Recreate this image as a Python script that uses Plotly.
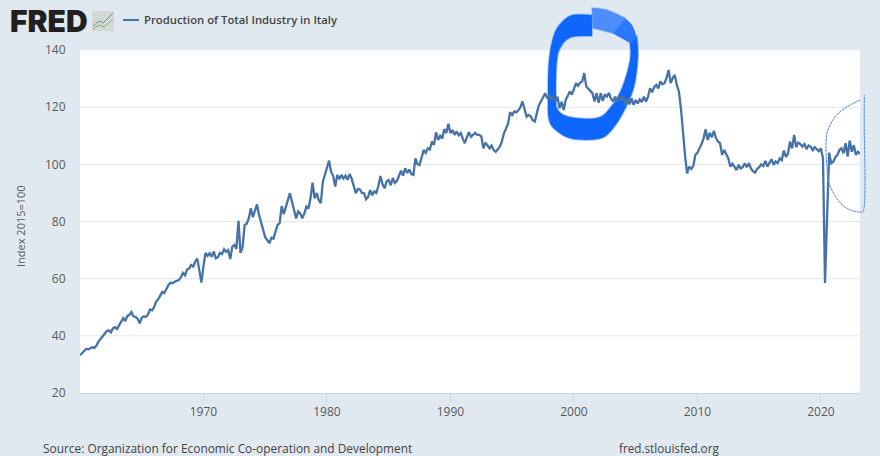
import numpy as np
import plotly.graph_objects as go

# Production of Total Industry in Italy, one value every two months from 1960
industry_values = [
    33.2, 34.0, 34.8, 35.4, 35.3, 35.8,
    36.0, 35.8, 36.6, 38.0, 38.9, 39.8,
    41.0, 41.7, 41.9, 41.2, 42.6, 43.0,
    42.4, 43.6, 44.8, 46.2, 45.2, 47.0,
    47.3, 48.3, 46.8, 46.6, 46.0, 44.4,
    46.3, 46.8, 46.6, 47.4, 49.2, 48.9,
    50.0, 52.0, 52.8, 54.2, 55.4, 55.0,
    56.6, 57.8, 58.6, 58.4, 58.9, 59.2,
    59.5, 60.4, 62.0, 61.2, 63.2, 63.5,
    64.8, 64.2, 66.0, 67.0, 62.0, 58.6,
    64.5, 69.0, 68.0, 68.9, 67.6, 69.5,
    67.1, 67.5, 69.0, 68.6, 70.3, 69.4,
    70.0, 66.9, 71.2, 71.8, 70.4, 80.2,
    69.0, 71.0, 78.8, 79.2, 81.1, 84.6,
    81.5, 84.2, 86.0, 82.3, 79.5, 77.0,
    74.5, 73.5, 72.4, 74.3, 74.0, 76.5,
    78.8, 79.4, 85.4, 82.6, 85.5, 87.5,
    89.9, 87.0, 84.6, 81.1, 83.5, 82.8,
    81.1, 82.8, 85.2, 84.5, 88.1, 93.6,
    88.1, 89.9, 87.5, 86.4, 93.9, 96.6,
    99.0, 101.3, 97.4, 96.0, 92.2, 96.3,
    94.8, 96.3, 95.0, 96.0, 94.6, 96.6,
    95.0, 92.8, 89.9, 91.4, 91.2, 90.0,
    89.9, 87.8, 88.6, 91.0, 89.2, 90.5,
    90.0, 92.5, 95.9, 93.0, 91.6, 94.0,
    94.5, 92.7, 95.2, 93.5, 94.2, 96.0,
    97.8, 96.0, 98.6, 97.0, 98.2, 96.6,
    96.3, 102.1, 100.0, 99.8, 103.0, 105.0,
    104.0, 105.6, 105.2, 108.0, 106.8, 111.2,
    108.5, 110.0, 109.0, 112.3, 111.0, 114.2,
    110.9, 112.0, 110.3, 111.5, 110.2, 111.0,
    109.0, 107.4, 109.5, 111.2, 109.6, 110.5,
    111.0, 110.3, 110.3, 109.8, 105.6, 107.6,
    106.5, 105.6, 106.6, 105.0, 104.4, 105.3,
    106.2, 108.0, 110.9, 112.5, 114.2, 118.2,
    117.3, 118.5, 118.2, 118.9, 120.0, 122.0,
    119.0, 116.7, 117.3, 116.8, 115.4, 115.0,
    118.0, 120.8, 122.0, 123.5, 124.9, 123.1,
    124.2, 122.8, 123.7, 122.0, 123.7, 119.6,
    121.9, 119.0, 122.5, 124.0, 125.5, 124.4,
    126.5, 128.4, 127.5, 128.6, 129.0, 131.9,
    127.2, 126.4, 125.5, 124.9, 122.0, 124.9,
    121.5, 124.9, 122.2, 124.5, 123.7, 125.0,
    123.0, 122.0, 123.7, 121.8, 123.9, 122.4,
    123.7, 120.8, 123.0, 121.0, 123.1, 120.8,
    122.5, 121.3, 122.7, 121.8, 123.7, 122.0,
    123.7, 126.6, 125.2, 127.0, 127.8, 126.6,
    129.0, 128.0, 128.4, 130.2, 133.0, 128.4,
    130.2, 131.3, 127.8, 125.5, 119.6, 110.9,
    103.0, 96.8, 99.2, 98.4, 99.4, 103.3,
    104.0, 105.6, 107.0, 109.1, 112.3, 108.5,
    111.0, 109.5, 111.7, 109.2, 108.0, 107.4,
    103.3, 105.0, 103.3, 102.1, 99.2, 100.2,
    99.2, 98.0, 99.8, 98.6, 99.0, 100.4,
    99.0, 100.4, 98.6, 97.6, 97.1, 98.4,
    99.0, 100.0, 99.4, 101.2, 99.2, 100.8,
    101.8, 99.8, 101.0, 100.4, 102.1, 101.5,
    104.8, 102.6, 103.8, 108.0, 105.6, 110.3,
    106.0, 107.6, 107.1, 106.2, 107.1, 105.3,
    106.6, 106.2, 105.0, 106.0, 105.2, 104.6,
    105.6, 102.1, 58.5, 85.0, 104.1, 100.4,
    100.9, 102.5, 103.3, 105.0, 105.6, 103.9,
    107.4, 102.7, 108.3, 104.4, 106.7, 103.3,
    104.4, 103.6,
]
years = 1960 + np.arange(len(industry_values)) / 6
y_ticks = [20, 40, 60, 80, 100, 120, 140]
x_ticks = [1970, 1980, 1990, 2000, 2010, 2020]

# marker scribbled over the screenshot, in picture pixels
ring_outer = [(592, 15), (573, 15), (562, 22), (554, 35), (549, 60), (548, 93), (549, 120), (558, 132), (573, 139),
              (598, 139), (610, 132), (623, 113), (634, 87), (638, 57), (637, 37)]
ring_inner = [(630, 43), (630, 60), (622, 88), (610, 108), (597, 118), (570, 117), (558, 110), (556, 97), (557, 60),
              (562, 45), (572, 37), (592, 36)]
ring_mid_outer = [(637, 37), (632, 25), (625, 18)]
ring_mid_inner = [(612, 33), (630, 43)]
ring_top_outer = [(625, 18), (607, 10), (592, 8)]
ring_top_inner = [(593, 28), (612, 33)]
thin_curve = [(860, 100), (845, 108), (835, 117), (828, 130), (826, 143), (826.7, 163), (829, 183), (838, 200),
              (848, 209), (860, 212), (864, 208), (865, 180), (864.3, 130), (864.3, 95)]

L, R, T, B = 80, 860, 50, 393


def paper_x(x):
    return (x - L) / (R - L)


def paper_y(y):
    return (B - y) / (B - T)


def curve(points):
    # catmull-rom through the points, as svg beziers in paper coordinates
    pts = [(paper_x(x), paper_y(y)) for x, y in points]
    out = ""
    for i in range(len(pts) - 1):
        p0 = pts[max(i - 1, 0)]
        p1 = pts[i]
        p2 = pts[i + 1]
        p3 = pts[min(i + 2, len(pts) - 1)]
        c1 = (p1[0] + (p2[0] - p0[0]) / 6, p1[1] + (p2[1] - p0[1]) / 6)
        c2 = (p2[0] - (p3[0] - p1[0]) / 6, p2[1] - (p3[1] - p1[1]) / 6)
        out += f" C {c1[0]} {c1[1]} {c2[0]} {c2[1]} {p2[0]} {p2[1]}"
    return out


def start(point):
    return f"M {paper_x(point[0])} {paper_y(point[1])}"


def to(point):
    return f" L {paper_x(point[0])} {paper_y(point[1])}"


def blob(outer, inner):
    return start(outer[0]) + curve(outer) + to(inner[0]) + curve(inner) + " Z"


fig = go.Figure()
fig.add_trace(go.Scatter(x=years, y=industry_values, mode="lines", name="Production of Total Industry in Italy",
                         line=dict(color="#4572a7", width=2.3)))

# gridlines as shapes so the marker can sit on top of them and under the series
grid = [dict(type="line", xref="paper", yref="y", x0=0, x1=1, y0=v, y1=v, layer="below",
             line=dict(color="#e6e6e6", width=1)) for v in y_ticks[1:-1]]
shapes = grid + [
    dict(type="path", xref="paper", yref="paper", path=blob(ring_outer, ring_inner), layer="below",
         fillcolor="#0f66fa", line=dict(color="rgba(15,102,250,0.35)", width=2)),
    dict(type="path", xref="paper", yref="paper", path=blob(ring_mid_outer, ring_mid_inner), layer="below",
         fillcolor="#2a78fb", line=dict(width=0)),
    dict(type="path", xref="paper", yref="paper", path=blob(ring_top_outer, ring_top_inner), layer="below",
         fillcolor="#4c8dfb", line=dict(color="rgba(76,141,251,0.35)", width=2)),
    dict(type="path", xref="paper", yref="paper", path=start(thin_curve[0]) + curve(thin_curve), layer="above",
         line=dict(color="#4f86ea", width=1, dash="3px,0.6px")),
    # legend swatch
    dict(type="line", xref="paper", yref="paper", x0=paper_x(123), x1=paper_x(139), y0=paper_y(20), y1=paper_y(20),
         line=dict(color="#4572a7", width=2)),
    # logo chart icon
    dict(type="rect", xref="paper", yref="paper", x0=paper_x(92), x1=paper_x(114), y0=paper_y(31), y1=paper_y(11),
         fillcolor="#d3dad6", line=dict(width=0), layer="below"),
    dict(type="path", xref="paper", yref="paper",
         path=start((93, 26)) + to((99, 21)) + to((103, 23)) + to((113, 13)),
         line=dict(color="#6f8fa6", width=1)),
    dict(type="path", xref="paper", yref="paper",
         path=start((93, 29)) + to((99, 25)) + to((104, 27)) + to((113, 19)),
         line=dict(color="#8fa86a", width=1)),
]

notes = [
    dict(text="FRED", x=paper_x(8), y=paper_y(21), font=dict(family="Inter", size=30, color="#231f20", weight=900),
         xanchor="left"),
    dict(text="Production of Total Industry in Italy", x=paper_x(142), y=paper_y(20),
         font=dict(family="Open Sans", size=11.3, color="#444444", weight=600), xanchor="left"),
    dict(text="Index 2015=100", x=paper_x(20), y=paper_y(226), textangle=-90,
         font=dict(family="Open Sans", size=11, color="#595959"), xanchor="center"),
    dict(text="Source: Organization for Economic Co-operation and Development", x=paper_x(42), y=paper_y(447.6),
         font=dict(family="Open Sans", size=11.9, color="#444444"), xanchor="left", borderpad=0),
    dict(text="fred.stlouisfed.org", x=paper_x(618), y=paper_y(447.6),
         font=dict(family="Open Sans", size=11.7, color="#444444"), xanchor="left", borderpad=0),
]
for n in notes:
    fig.add_annotation(xref="paper", yref="paper", showarrow=False, yanchor="middle", **n)

fig.update_layout(
    width=880, height=456,
    margin=dict(l=L, r=880 - R, t=T, b=456 - B),
    paper_bgcolor="#e1e9f0", plot_bgcolor="#ffffff",
    font=dict(family="Open Sans", size=12, color="#595959"),
    shapes=shapes,
    showlegend=False,
)
fig.update_xaxes(range=[1960, years[-1]], tickmode="array", tickvals=x_ticks, ticks="outside", ticklen=8,
                 tickcolor="#ccd6eb", showgrid=False, showline=True, linecolor="#ccd6eb", zeroline=False)
fig.update_yaxes(range=[20, 140], tickmode="array", tickvals=y_ticks, showgrid=False,
                 showline=False, zeroline=False, ticks="outside", ticklen=11, tickcolor="rgba(0,0,0,0)")

fig.write_html("out.html", config={"displayModeBar": False}, post_script="document.body.style.margin = '0';")
